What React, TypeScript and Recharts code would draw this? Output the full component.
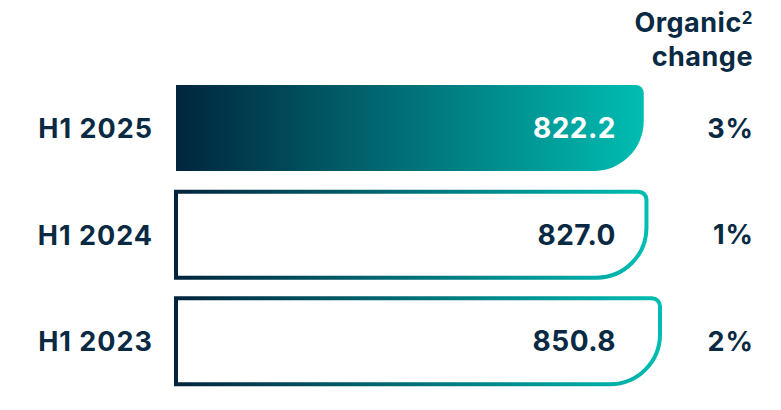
import { BarChart, Bar, XAxis, YAxis, Cell, LabelList } from 'recharts'

const periods = ['H1 2025', 'H1 2024', 'H1 2023']
const revenue = [822.2, 827.0, 850.8]
const organicChange = ['3%', '1%', '2%']

const data = periods.map((p, i) => ({ period: p, value: revenue[i], change: organicChange[i] }))

const NAVY = '#0a2a43'
const TEAL = '#00bdb2'
const FONT = 'Inter, "Noto Sans", sans-serif'

// flat left side, small top-right corner, big bottom-right curve
function RoundedBar(props: any) {
  const { x, y, width, height, fill, stroke, strokeWidth } = props
  const r1 = 8
  const r2 = Math.min(50, height - r1, width)
  const d = `M${x},${y} H${x + width - r1} A${r1},${r1} 0 0 1 ${x + width},${y + r1} V${y + height - r2} A${r2},${r2} 0 0 1 ${x + width - r2},${y + height} H${x} Z`
  return <path d={d} fill={fill} stroke={stroke} strokeWidth={strokeWidth} />
}

function ValueLabel(props: any) {
  const { x, y, height, value, index } = props
  return (
    <text x={x + 440} y={y + height / 2} dy="0.36em" textAnchor="end" letterSpacing={0.5}
      fontSize={28} fontWeight={700} fontFamily={FONT} fill={index === 0 ? '#ffffff' : NAVY}>
      {Number(value).toFixed(1)}
    </text>
  )
}

function ChangeLabel(props: any) {
  const { x, y, height, value } = props
  return (
    <text x={x + 578} y={y + height / 2} dy="0.36em" textAnchor="end" letterSpacing={1}
      fontSize={27} fontWeight={700} fontFamily={FONT} fill={NAVY}>
      {value}
    </text>
  )
}

export default function App() {
  return (
    <div style={{ position: 'relative', width: 781, height: 410, background: '#fff', fontFamily: FONT }}>
      <style>{'body{margin:0}'}</style>
      <div style={{ position: 'absolute', right: 28, top: 1, textAlign: 'right', fontSize: 27, lineHeight: '34px', fontWeight: 700, color: NAVY, letterSpacing: 0.5 }}>
        Organic<span style={{ fontSize: 17, verticalAlign: 8 }}>2</span><br />change
      </div>
      <BarChart width={781} height={410} data={data} layout="vertical"
        margin={{ top: 75, right: 93, bottom: 15, left: 0 }}>
        <defs>
          <linearGradient id="barFill" x1="0" y1="0" x2="1" y2="0">
            <stop offset="0%" stopColor="#01253d" />
            <stop offset="100%" stopColor={TEAL} />
          </linearGradient>
          <linearGradient id="barStroke" x1="0" y1="0" x2="1" y2="0">
            <stop offset="0%" stopColor="#01253d" />
            <stop offset="100%" stopColor={TEAL} />
          </linearGradient>
        </defs>
        <XAxis type="number" domain={[0, 900]} hide />
        <YAxis type="category" dataKey="period" width={176} axisLine={false} tickLine={false}
          tickSize={0} tickMargin={23}
          tick={{ fontSize: 27, fontWeight: 700, fill: NAVY, fontFamily: FONT, letterSpacing: 1 }} />
        <Bar dataKey="value" barSize={86} shape={<RoundedBar />} isAnimationActive={false}>
          {data.map((_, i) => (
            i === 0
              ? <Cell key={i} fill="url(#barFill)" stroke="none" strokeWidth={0} />
              : <Cell key={i} fill="#ffffff" stroke="url(#barStroke)" strokeWidth={4} />
          ))}
          <LabelList dataKey="value" content={<ValueLabel />} />
          <LabelList dataKey="change" content={<ChangeLabel />} />
        </Bar>
      </BarChart>
    </div>
  )
}
